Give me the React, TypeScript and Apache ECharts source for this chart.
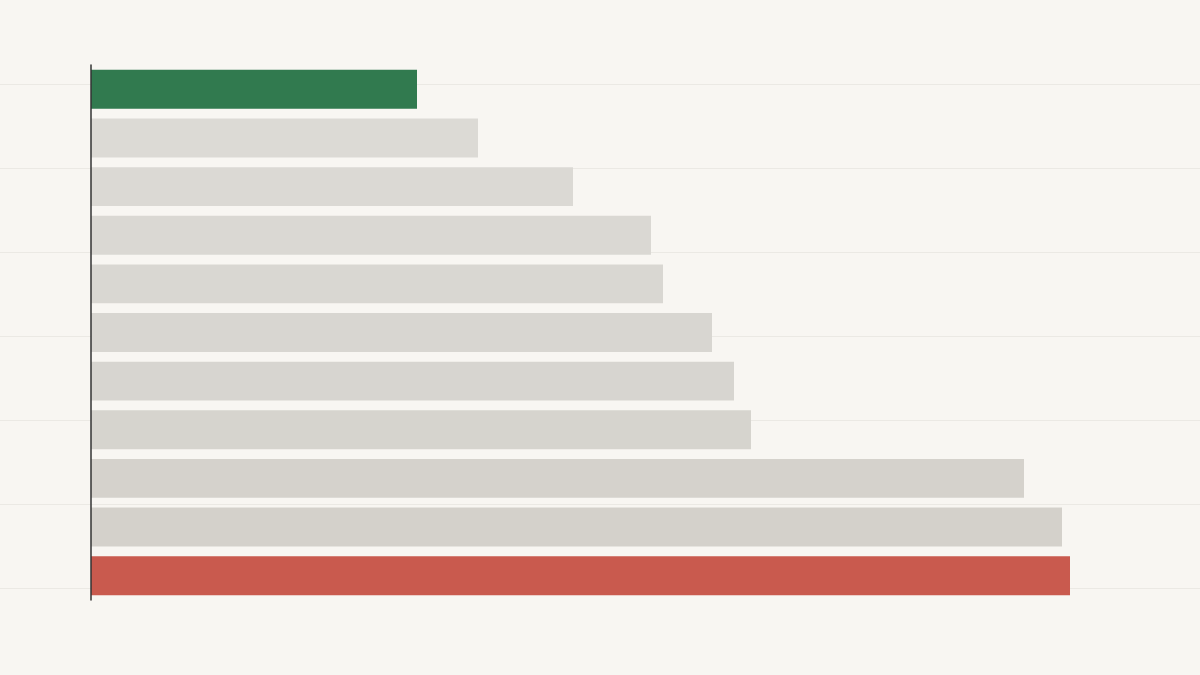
import React, { useEffect, useRef } from "react";
import * as echarts from "echarts";

const categories = ["A", "B", "C", "D", "E", "F", "G", "H", "I", "J", "K"];
const values = [32.6, 38.7, 48.2, 56.0, 57.2, 62.1, 64.3, 66.0, 93.3, 97.1, 97.9];
const barColors = [
  "#317a4f",
  "#dcdad5",
  "#dbd9d4",
  "#dad8d3",
  "#d9d7d2",
  "#d8d6d1",
  "#d7d5d0",
  "#d6d4ce",
  "#d5d2cc",
  "#d4d1cb",
  "#c95a4e",
];

export default function App() {
  const ref = useRef<HTMLDivElement>(null);
  useEffect(() => {
    if (!ref.current) return;
    const chart = echarts.init(ref.current, null, { renderer: "svg" });
    chart.setOption({
      animation: false,
      backgroundColor: "#f8f6f2",
      grid: [
        { left: 91, width: 1000, top: 65, bottom: 75, containLabel: false },
        { left: 0, right: 0, top: 84, bottom: 87, containLabel: false },
      ],
      xAxis: [
        {
          gridIndex: 0,
          type: "value",
          min: 0,
          max: 100,
          show: false,
        },
        {
          gridIndex: 1,
          type: "value",
          min: 0,
          max: 1,
          axisLine: { show: false },
          axisTick: { show: false },
          axisLabel: { show: false },
          splitLine: { show: false },
        },
      ],
      yAxis: [
        {
          gridIndex: 0,
          type: "category",
          data: categories,
          inverse: true,
          axisLine: { show: true, lineStyle: { color: "#333333", width: 1.5 } },
          axisTick: { show: false },
          axisLabel: { show: false },
          splitLine: { show: false },
          z: 5,
        },
        {
          gridIndex: 1,
          type: "value",
          min: 0,
          max: 6,
          interval: 1,
          axisLine: { show: false },
          axisTick: { show: false },
          axisLabel: { show: false },
          splitLine: { show: true, lineStyle: { color: "#ebe9e4", width: 1 } },
        },
      ],
      series: [
        {
          type: "bar",
          xAxisIndex: 0,
          yAxisIndex: 0,
          barCategoryGap: "20%",
          data: values.map((v, i) => ({ value: v, itemStyle: { color: barColors[i] } })),
          z: 3,
        },
      ],
    });
    return () => chart.dispose();
  }, []);
  return (
    <div
      ref={ref}
      style={{ position: "absolute", left: 0, top: 0, width: 1200, height: 675 }}
    />
  );
}
